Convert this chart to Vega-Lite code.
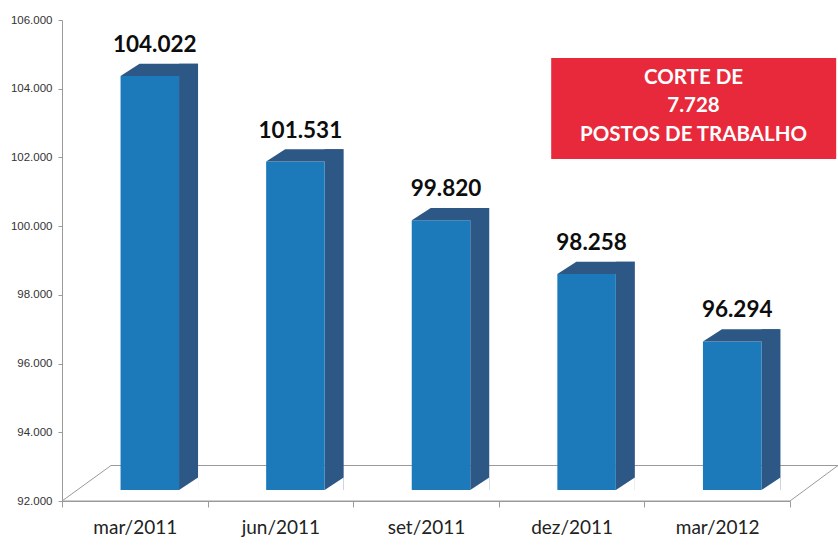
{
  "$schema": "https://vega.github.io/schema/vega-lite/v6.json",
  "width": 728,
  "height": 481,
  "autosize": {"type": "none"},
  "padding": {"left": 62, "top": 20, "right": 48, "bottom": 48},
  "background": "white",
  "config": {
    "locale": {"number": {"decimal": ",", "thousands": ".", "grouping": [3], "currency": ["R$", ""]}},
    "view": {"stroke": null}
  },
  "data": {
    "values": [
      {"mes": "mar/2011", "postos": 104022},
      {"mes": "jun/2011", "postos": 101531},
      {"mes": "set/2011", "postos": 99820},
      {"mes": "dez/2011", "postos": 98258},
      {"mes": "mar/2012", "postos": 96294}
    ]
  },
  "encoding": {
    "x": {
      "field": "mes", "type": "nominal", "sort": null,
      "scale": {"domain": ["mar/2011", "jun/2011", "set/2011", "dez/2011", "mar/2012"], "paddingInner": 0, "paddingOuter": 0},
      "axis": {"title": null, "labelAngle": 0, "labelFont": "Lato", "labelFontSize": 19, "labelColor": "#222222",
        "domainColor": "#9a9a9a", "tickColor": "#9a9a9a", "tickSize": 6, "tickBand": "extent", "labelPadding": 11}
    }
  },
  "layer": [
    {
      "mark": {"type": "point", "shape": "M-364,0L364,0L412,-35.5L-315,-35.5Z", "size": 4, "filled": false, "stroke": "#9a9a9a", "strokeWidth": 1, "opacity": 1},
      "encoding": {"x": {"datum": "set/2011"}, "y": {"datum": 92000}},
      "data": {"values": [{"piso": 1}]}
    },
    {
      "mark": {"type": "bar", "width": 19, "xOffset": 53.75, "yOffset": -24.3, "y2Offset": -11, "color": "#2d5784"},
      "encoding": {
        "y": {"field": "postos", "type": "quantitative",
          "scale": {"domain": [92000, 106000], "zero": false, "nice": false},
          "axis": {"title": null, "values": [92000, 94000, 96000, 98000, 100000, 102000, 104000, 106000], "format": ",d",
            "grid": false, "labelFont": "Liberation Sans", "labelFontSize": 11.5, "labelColor": "#333333",
            "domainColor": "#9a9a9a", "tickColor": "#9a9a9a", "tickSize": 4, "labelPadding": 6}},
        "y2": {"datum": 92000}
      }
    },
    {
      "mark": {"type": "point", "shape": "M44.25,-11L63.25,-11L63.25,-23.5Z", "size": 4, "filled": true, "color": "white", "opacity": 1},
      "encoding": {"y": {"datum": 92000}}
    },
    {
      "mark": {"type": "bar", "width": 58.5, "xOffset": 15, "yOffset": -12, "y2Offset": -11, "color": "#1d7aba"},
      "encoding": {
        "y": {"field": "postos", "type": "quantitative"},
        "y2": {"datum": 92000}
      }
    },
    {
      "mark": {"type": "point", "shape": "M-14.25,-12L44.25,-12L63.25,-24.3L4.75,-24.3Z", "size": 4, "filled": true, "color": "#2d5784", "opacity": 1},
      "encoding": {"y": {"field": "postos", "type": "quantitative"}}
    },
    {
      "mark": {"type": "text", "font": "Lato", "fontWeight": "bold", "fontSize": 22.5, "color": "#0d0d0d", "dx": 20, "dy": -43, "baseline": "middle"},
      "encoding": {
        "y": {"field": "postos", "type": "quantitative"},
        "text": {"field": "postos", "type": "quantitative", "format": ",d"}
      }
    },
    {
      "data": {"values": [{"texto": ["CORTE DE", "7.728", "POSTOS DE TRABALHO"]}]},
      "mark": {"type": "point", "shape": "M-166,-48H119V53H-166Z", "size": 4, "filled": true, "color": "#e8293b", "opacity": 1},
      "encoding": {"x": {"datum": "mar/2012"}, "y": {"datum": 103500}}
    },
    {
      "data": {"values": [{"texto": ["CORTE DE", "7.728", "POSTOS DE TRABALHO"]}]},
      "mark": {"type": "text", "font": "Lato", "fontWeight": "bold", "fontSize": 20.5, "color": "white", "dx": -23.7, "dy": -28, "baseline": "middle", "lineHeight": 28.5},
      "encoding": {"x": {"datum": "mar/2012"}, "y": {"datum": 103500}, "text": {"field": "texto"}}
    }
  ]
}
